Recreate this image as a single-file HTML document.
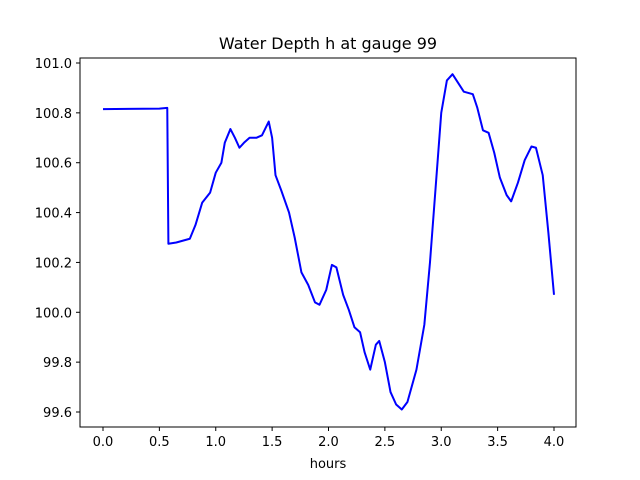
<!DOCTYPE html>
<html><head><meta charset="utf-8"><style>
body{margin:0;background:#fff;}
svg{display:block;font-family:"DejaVu Sans","Liberation Sans",sans-serif;}
</style></head><body>
<svg id="chart" width="640" height="480">
<rect width="640" height="480" fill="#fff"/>
<text x="328" y="49" font-size="16" text-anchor="middle">Water Depth h at gauge 99</text>
<text x="328" y="468" font-size="13" text-anchor="middle">hours</text>
<g id="ticks"></g>
<polyline id="line" fill="none" stroke="#0000ff" stroke-width="2" stroke-linejoin="round"/>
<rect x="80" y="58" width="496" height="369" fill="none" stroke="#000" stroke-width="1"/>
</svg>
<script>
const hours=[0.0,0.5,0.57,0.58,0.65,0.77,0.82,0.88,0.95,1.0,1.05,1.08,1.13,1.17,1.21,1.25,1.3,1.36,1.41,1.47,1.5,1.53,1.58,1.65,1.7,1.76,1.82,1.88,1.92,1.98,2.03,2.07,2.13,2.18,2.23,2.28,2.32,2.37,2.42,2.45,2.5,2.55,2.6,2.65,2.7,2.78,2.85,2.9,2.95,3.0,3.05,3.1,3.15,3.2,3.28,3.32,3.37,3.42,3.47,3.52,3.58,3.62,3.68,3.74,3.8,3.84,3.9,3.95,4.0];
const depth=[100.815,100.817,100.82,100.275,100.28,100.295,100.35,100.44,100.48,100.56,100.6,100.68,100.735,100.7,100.66,100.68,100.7,100.7,100.71,100.765,100.7,100.55,100.49,100.4,100.3,100.16,100.11,100.04,100.03,100.09,100.19,100.18,100.07,100.01,99.94,99.92,99.84,99.77,99.87,99.885,99.8,99.68,99.63,99.61,99.64,99.77,99.95,100.2,100.5,100.8,100.93,100.955,100.92,100.885,100.875,100.82,100.73,100.72,100.64,100.54,100.47,100.445,100.52,100.61,100.665,100.66,100.55,100.32,100.07];
const xTicks=[0.0,0.5,1.0,1.5,2.0,2.5,3.0,3.5,4.0];
const yTicks=[99.6,99.8,100.0,100.2,100.4,100.6,100.8,101.0];
const xs=v=>103+(v-0)*(554-103)/4;
const ys=v=>412-(v-99.6)*(412-63)/1.4;
const NS="http://www.w3.org/2000/svg";
const g=document.getElementById('ticks');
xTicks.forEach(t=>{
 const l=document.createElementNS(NS,'line');
 
 
 l.setAttribute('x1',xs(t));l.setAttribute('x2',xs(t));l.setAttribute('y1',427);l.setAttribute('y2',431);l.setAttribute('stroke','#000');g.appendChild(l);
 const tx=document.createElementNS(NS,'text');
 
 
 tx.setAttribute('x',xs(t));tx.setAttribute('y',446);tx.setAttribute('font-size','13');tx.setAttribute('text-anchor','middle');tx.textContent=t.toFixed(1);g.appendChild(tx);
});
yTicks.forEach(t=>{
 const l=document.createElementNS(NS,'line');
 
 
 l.setAttribute('x1',76);l.setAttribute('x2',80);l.setAttribute('y1',ys(t));l.setAttribute('y2',ys(t));l.setAttribute('stroke','#000');g.appendChild(l);
 const tx=document.createElementNS(NS,'text');
 
 
 tx.setAttribute('x',72);tx.setAttribute('y',ys(t)+5);tx.setAttribute('font-size','13');tx.setAttribute('text-anchor','end');tx.textContent=t.toFixed(1);g.appendChild(tx);
});
document.getElementById('line').setAttribute('points',hours.map((h,i)=>xs(h)+','+ys(depth[i])).join(' '));
</script>
</body></html>
